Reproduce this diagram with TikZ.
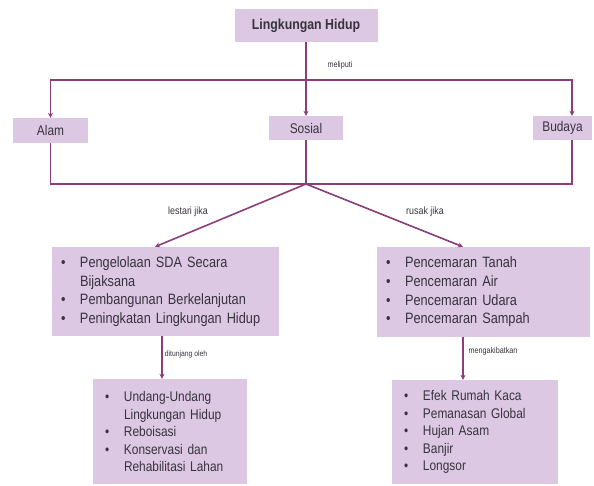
\documentclass[tikz,border=0pt]{standalone}
\usepackage{fontspec}
\setmainfont{Liberation Sans}[FakeStretch=0.85]
\usetikzlibrary{arrows.meta,positioning}
\definecolor{lilac}{RGB}{221,200,227}
\definecolor{plum}{RGB}{140,62,122}
\definecolor{ink}{RGB}{55,50,62}
\newcommand{\itm}{\makebox[19pt][l]{\textbullet}}
\newcommand{\cont}{\hspace*{19pt}}
\tikzset{%
  concept/.style={rectangle,fill=lilac,text=ink,inner sep=0pt,
    font=\fontsize{14}{16}\selectfont},
  listbox/.style={rectangle,fill=lilac,text=ink,align=left,
    inner xsep=9pt,inner ysep=0pt,font=\fontsize{15}{18.7}\selectfont},
  smallbox/.style={listbox,inner xsep=12pt,font=\fontsize{14}{17.5}\selectfont},
  link/.style={draw=plum,line width=1.6pt},
  post/.style={link,-{Stealth[length=5pt,width=5pt]}},
  tag/.style={text=ink,font=\fontsize{8.5}{10}\selectfont}
}

\begin{document}
\begin{tikzpicture}[x=1pt,y=-1pt]
    \useasboundingbox (0,0) rectangle (594,485);

    \node [concept,minimum width=143pt,minimum height=33pt,
      font=\fontsize{14.5}{17}\selectfont\bfseries] (lh) at (306,25.5) {Lingkungan Hidup};
    \node [concept,minimum width=75pt,minimum height=25pt] (alam) at (50.5,130.5) {Alam};
    \node [concept,minimum width=74pt,minimum height=24pt] (sosial) at (306,128) {Sosial};
    \node [concept,minimum width=59pt,minimum height=24pt] (budaya) at (562.5,128) {Budaya};

    \node [listbox,text width=209pt,minimum height=89pt] (lestari) at (165.5,291.5)
      {\itm Pengelolaan SDA Secara\\ \cont Bijaksana\\ \itm Pembangunan Berkelanjutan\\
       \itm Peningkatan Lingkungan Hidup};
    \node [listbox,text width=195pt,minimum height=90pt] (rusak) at (483.5,292)
      {\itm Pencemaran Tanah\\ \itm Pencemaran Air\\ \itm Pencemaran Udara\\
       \itm Pencemaran Sampah};
    \node [smallbox,text width=130pt,minimum height=105pt] (tunjang) at (170,431.5)
      {\itm Undang-Undang\\ \cont Lingkungan Hidup\\ \itm Reboisasi\\
       \itm Konservasi dan\\ \cont Rehabilitasi Lahan};
    \node [smallbox,text width=142pt,minimum height=104pt] (akibat) at (475,432)
      {\itm Efek Rumah Kaca\\ \itm Pemanasan Global\\ \itm Hujan Asam\\
       \itm Banjir\\ \itm Longsor};

    \coordinate (split) at (306,80);
    \coordinate (join) at (306,184);

    \draw [post] (lh) -- (sosial);
    \draw [post] (split) -| (alam);
    \draw [post] (split) -| ([xshift=9.5pt]budaya.north);
    \draw [link] (alam) |- (join) -| ([xshift=9.5pt]budaya.south);
    \draw [link] (sosial) -- (join);
    \draw [post] (join) -- ([xshift=-10.5pt]lestari.north);
    \draw [post] (join) -- ([xshift=-20.5pt]rusak.north);
    \draw [post] ([xshift=-3.5pt]lestari.south) -- ([xshift=-8pt]tunjang.north);
    \draw [post] ([xshift=-20.5pt]rusak.south) -- ([xshift=-12pt]akibat.north);

    \node [tag] (meliputi) at (340,65) {meliputi};
    \node [tag,font=\fontsize{10.5}{12}\selectfont] (lestarijika) at (188,212) {lestari jika};
    \node [tag,font=\fontsize{10.5}{12}\selectfont] (rusakjika) at (425,212) {rusak jika};
    \node [tag,font=\fontsize{8}{10}\selectfont] (ditunjang) at (186,354) {ditunjang oleh};
    \node [tag] (mengakibatkan) at (493,351) {mengakibatkan};
\end{tikzpicture}
\end{document}
